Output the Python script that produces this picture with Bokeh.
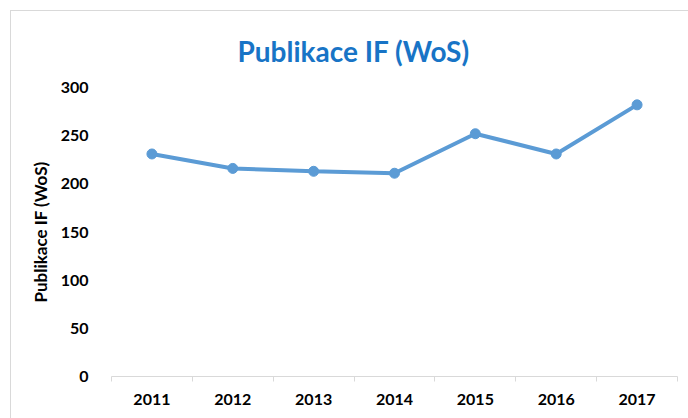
from bokeh.plotting import figure
from bokeh.models import FixedTicker, Range1d, ColumnDataSource
from bokeh.embed import file_html
from bokeh.resources import INLINE

years = ["2011", "2012", "2013", "2014", "2015", "2016", "2017"]
values = [231, 216, 213, 211, 252, 231, 282]
y_ticks = [0, 50, 100, 150, 200, 250, 300]
title_text = "Publikace IF (WoS)"
y_label = "Publikace IF (WoS)"

pos = list(range(1, len(years) + 1))
src = ColumnDataSource(dict(x=pos, y=values, year=years))

p = figure(width=680, height=410, output_backend="svg", toolbar_location=None,
           x_range=Range1d(0.5, len(years) + 0.5), y_range=Range1d(0, 300),
           min_border_left=100, min_border_right=14, min_border_top=76, min_border_bottom=45)
p.styles = {"border": "1px solid #d9d9d9", "margin-left": "10px", "margin-top": "10px"}
p.outline_line_color = None
p.grid.visible = False
p.background_fill_color = "white"
p.border_fill_color = "white"

p.title.text = title_text
p.title.align = "left"
p.title.offset = 126
p.title.standoff = 40
p.title.text_font = "Lato"
p.title.text_font_size = "28px"
p.title.text_font_style = "bold"
p.title.text_color = "#1874C6"

p.line("x", "y", source=src, line_color="#5B9BD5", line_width=4)
p.scatter("x", "y", source=src, size=10, fill_color="#5B9BD5", line_color="#5B9BD5")

xa = p.xaxis[0]
xa.ticker = FixedTicker(ticks=pos, minor_ticks=[i + 0.5 for i in range(0, len(years) + 1)])
xa.major_label_overrides = {i: y for i, y in zip(pos, years)}
xa.axis_line_color = "#d9d9d9"
xa.major_tick_out = 0
xa.major_tick_in = 0
xa.minor_tick_out = 5
xa.minor_tick_in = 0
xa.minor_tick_line_color = "#d9d9d9"
xa.major_label_standoff = 12
xa.major_label_text_font = "Lato"
xa.major_label_text_font_size = "16px"
xa.major_label_text_font_style = "bold"
xa.major_label_text_color = "black"

ya = p.yaxis[0]
ya.ticker = FixedTicker(ticks=y_ticks)
ya.axis_line_color = None
ya.major_tick_line_color = None
ya.minor_tick_line_color = None
ya.major_label_standoff = 17
ya.major_label_text_font = "Lato"
ya.major_label_text_font_size = "16px"
ya.major_label_text_font_style = "bold"
ya.major_label_text_color = "black"
ya.axis_label = y_label
ya.axis_label_standoff = 7
ya.axis_label_text_font = "Lato"
ya.axis_label_text_font_size = "17px"
ya.axis_label_text_font_style = "bold"
ya.axis_label_text_color = "black"

open("out.html", "w").write(file_html(p, INLINE))
